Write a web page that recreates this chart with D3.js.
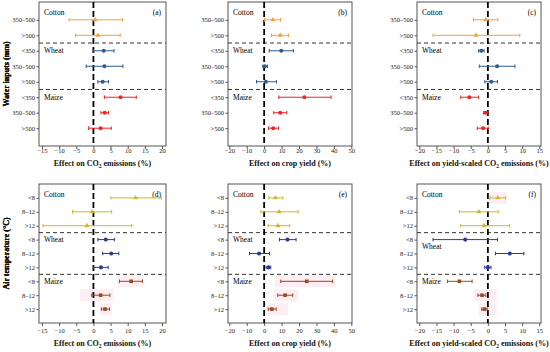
<!DOCTYPE html>
<html>
<head>
<meta charset="utf-8">
<script src="https://cdn.jsdelivr.net/npm/d3@7"></script>
<style>
  body { margin: 0; background: #fff; }
  svg { display: block; font-family: "Liberation Serif", "Times New Roman", serif; }
</style>
</head>
<body>
<div id="chart"></div>
<script>
// row labels and crop groups
const waterLabels = ["350–500", ">500", "<350", "350–500", ">500", "<350", "350–500", ">500"];
const waterCrops  = ["Cotton", "Cotton", "Wheat", "Wheat", "Wheat", "Maize", "Maize", "Maize"];
const tempLabels  = ["<8", "8–12", ">12", "<8", "8–12", ">12", "<8", "8–12", ">12"];
const tempCrops   = ["Cotton", "Cotton", "Cotton", "Wheat", "Wheat", "Wheat", "Maize", "Maize", "Maize"];

// [mean, lower, upper] per row
const co2Water = [[0.5, -7.1, 8.5], [1.3, -5.2, 7.8], [3.0, -0.1, 6.0], [3.2, -2.1, 8.6], [2.7, 1.3, 4.4],
                  [7.9, 3.2, 12.5], [3.3, 2.2, 4.4], [2.1, -1.4, 5.2]];
const yieldWater = [[5.0, 0.2, 9.4], [9.2, 4.2, 14.0], [9.8, 2.9, 16.8], [0.4, -0.8, 1.9], [1.0, -4.4, 7.1],
                    [23.1, 8.4, 38.4], [9.2, 5.5, 13.0], [5.2, 2.5, 8.2]];
const ysWater = [[-0.6, -4.2, 2.9], [-3.5, -16.0, 9.3], [-1.9, -2.7, -1.1], [2.7, -2.5, 7.9], [1.0, -0.9, 2.8],
                 [-5.4, -7.9, -2.7], [-0.7, -1.3, 0.0], [-1.4, -3.1, 0.1]];
const co2Temp = [[12.3, 5.1, 19.8], [-0.4, -6.1, 5.3], [-1.9, -14.7, 11.2], [3.6, 1.3, 6.1], [5.2, 2.7, 7.4],
                 [2.2, 0.1, 4.3], [11.0, 7.6, 14.3], [2.1, -0.5, 4.8], [3.4, 2.3, 4.7]];
const yieldTemp = [[6.5, 2.7, 10.7], [8.6, -1.9, 19.5], [8.0, 2.3, 14.7], [13.4, 8.8, 18.3], [-2.9, -8.4, 3.1],
                   [2.5, 1.1, 3.8], [24.4, 9.5, 39.3], [12.0, 7.8, 16.4], [4.4, 2.3, 6.9]];
const ysTemp = [[2.9, 0.6, 5.2], [-2.6, -8.3, 3.0], [-1.1, -7.9, 6.4], [-6.6, -16.0, 2.8], [6.4, 2.2, 10.5],
                [0.0, -0.9, 0.9], [-8.3, -11.8, -4.6], [-1.7, -2.9, -0.6], [-1.0, -1.8, -0.2]];

// faint pink bands behind some rows of the temperature panels [row, from, to]
const pinkCo2 = [[6, 6.8, 14.6], [7, -3.9, 5.7], [8, 2.0, 5.4]];
const pinkYield = [[6, 6.2, 40.7], [7, 5.2, 19.6], [8, 1.4, 13.8]];
const pinkYs = [[0, 0.3, 5.5], [7, -4.2, 2.6], [8, -2.7, 2.6]];

const ticksA = [-15, -10, -5, 0, 5, 10, 15, 20];
const ticksB = [-20, -10, 0, 10, 20, 30, 40, 50];
const ticksC = [-20, -15, -10, -5, 0, 5, 10, 15];

const W = 550, H = 352;
const svg = d3.select("#chart").append("svg").attr("width", W).attr("height", H);

const topColors = { Cotton: "#f5a03c", Wheat: "#2f5c8c", Maize: "#e8262b" };
const botColors = { Cotton: "#cdb92a", Wheat: "#2c3c8e", Maize: "#9a4a1c" };

const cols = [
  { box: [39, 166], range: [42, 162], domain: [-15, 20], ticks: ticksA },
  { box: [228, 352], range: [229.3, 351.3], domain: [-20, 50], ticks: ticksB },
  { box: [417, 541], range: [419.3, 539.3], domain: [-20, 15], ticks: ticksC }
];

const panels = [
  { col: 0, row: 0, data: co2Water, tag: "(a)", title: ["Effect on CO", "2", " emissions (%)"] },
  { col: 1, row: 0, data: yieldWater, tag: "(b)", title: ["Effect on crop yield (%)"] },
  { col: 2, row: 0, data: ysWater, tag: "(c)", title: ["Effect on yield-scaled CO", "2", " emissions (%)"] },
  { col: 0, row: 1, data: co2Temp, tag: "(d)", title: ["Effect on CO", "2", " emissions (%)"], pink: pinkCo2 },
  { col: 1, row: 1, data: yieldTemp, tag: "(e)", title: ["Effect on crop yield (%)"], pink: pinkYield },
  { col: 2, row: 1, data: ysTemp, tag: "(f)", title: ["Effect on yield-scaled CO", "2", " emissions (%)"], pink: pinkYs }
];

const rows = [
  { box: [2, 146], pad: 1.15, labels: waterLabels, crops: waterCrops, colors: topColors,
    yTitle: "Water inputs (mm)", tickY: 153, titleY: 166 },
  { box: [184, 323], pad: 1, labels: tempLabels, crops: tempCrops, colors: botColors,
    yTitle: "Air temperature (°C)", tickY: 333, titleY: 346 }
];

panels.forEach(function(p) {
  const c = cols[p.col], r = rows[p.row];
  const n = r.labels.length;
  const x = d3.scaleLinear().domain(c.domain).range(c.range);
  const y = d3.scaleLinear().domain([-r.pad, n - 1 + r.pad]).range(r.box);
  const g = svg.append("g");

  // pink bands
  if (p.pink) {
    g.selectAll("rect.pink").data(p.pink).enter().append("rect")
      .attr("x", d => x(d[1]))
      .attr("width", d => x(d[2]) - x(d[1]))
      .attr("y", d => y(d[0]) - 6)
      .attr("height", 12)
      .attr("fill", "#fdeef4");
  }

  // frame
  g.append("rect")
    .attr("x", c.box[0]).attr("y", r.box[0])
    .attr("width", c.box[1] - c.box[0]).attr("height", r.box[1] - r.box[0])
    .attr("fill", "none").attr("stroke", "#555").attr("stroke-width", 1);

  // group separators
  const seps = [];
  for (let i = 1; i < n; i++) if (r.crops[i] !== r.crops[i - 1]) seps.push(i - 0.5);
  g.selectAll("line.sep").data(seps).enter().append("line")
    .attr("x1", c.box[0]).attr("x2", c.box[1])
    .attr("y1", d => y(d)).attr("y2", d => y(d))
    .attr("stroke", "#333").attr("stroke-width", 1).attr("stroke-dasharray", "4,3");

  // zero line
  g.append("line")
    .attr("x1", x(0)).attr("x2", x(0)).attr("y1", r.box[0]).attr("y2", r.box[1])
    .attr("stroke", "#000").attr("stroke-width", 1.8).attr("stroke-dasharray", "6,3");

  // x axis
  const xa = g.append("g").attr("transform", "translate(0," + r.box[1] + ")")
    .call(d3.axisBottom(x).tickValues(c.ticks).tickSize(3).tickSizeOuter(0));
  xa.select(".domain").remove();
  xa.selectAll("line").attr("stroke", "#555");
  xa.selectAll("text").attr("font-size", 6.5).attr("fill", "#222").attr("font-family", "Liberation Serif")
    .attr("y", r.tickY - r.box[1]).attr("dy", 0);

  // y axis
  const ya = g.append("g").attr("transform", "translate(" + c.box[0] + ",0)")
    .call(d3.axisLeft(y).tickValues(d3.range(n)).tickFormat(i => r.labels[i]).tickSize(2.5).tickSizeOuter(0));
  ya.select(".domain").remove();
  ya.selectAll("line").attr("stroke", "#555");
  ya.selectAll("text").attr("font-size", 6.5).attr("fill", "#222").attr("font-family", "Liberation Serif").attr("x", -4);

  // crop labels
  const firstIdx = {};
  r.crops.forEach((cr, i) => { if (!(cr in firstIdx)) firstIdx[cr] = i; });
  Object.keys(firstIdx).forEach(function(cr) {
    let yy = y(firstIdx[cr]) + 2.5;
    if (cr === "Cotton") yy = r.box[0] + 13;
    if (p.row === 1 && p.col === 2 && cr === "Wheat") yy += 7;
    g.append("text").attr("x", c.box[0] + 5).attr("y", yy)
      .attr("font-size", 7.5).attr("fill", "#000").text(cr);
  });

  // panel tag
  g.append("text").attr("x", c.box[1] - 5).attr("y", r.box[0] + 13)
    .attr("text-anchor", "end").attr("font-size", 7.5).attr("fill", "#000").text(p.tag);

  // error bars
  const bars = g.selectAll("g.bar").data(p.data).enter().append("g")
    .attr("transform", (d, i) => "translate(0," + y(i) + ")");
  bars.append("line").attr("x1", d => x(d[1])).attr("x2", d => x(d[2]))
    .attr("stroke", (d, i) => r.colors[r.crops[i]]).attr("stroke-width", 1);
  bars.append("line").attr("x1", d => x(d[1])).attr("x2", d => x(d[1])).attr("y1", -1.8).attr("y2", 1.8)
    .attr("stroke", (d, i) => r.colors[r.crops[i]]).attr("stroke-width", 1);
  bars.append("line").attr("x1", d => x(d[2])).attr("x2", d => x(d[2])).attr("y1", -1.8).attr("y2", 1.8)
    .attr("stroke", (d, i) => r.colors[r.crops[i]]).attr("stroke-width", 1);
  bars.append("path")
    .attr("transform", d => "translate(" + x(d[0]) + ",0)")
    .attr("d", function(d, i) {
      const cr = r.crops[i];
      const type = cr === "Cotton" ? d3.symbolTriangle : (cr === "Wheat" || p.row === 0 ? d3.symbolCircle : d3.symbolSquare);
      return d3.symbol().type(type).size(cr === "Cotton" ? 11 : 13)();
    })
    .attr("fill", (d, i) => r.colors[r.crops[i]]);

  // x title
  const cx = (c.box[0] + c.box[1]) / 2;
  const t = g.append("text").attr("x", cx).attr("y", r.titleY).attr("text-anchor", "middle")
    .attr("font-size", 8).attr("font-weight", "bold").attr("fill", "#111");
  p.title.forEach(function(s, k) {
    if (k === 1) t.append("tspan").attr("font-size", 5.5).attr("dy", 1.8).text(s);
    else if (k === 2) t.append("tspan").attr("dy", -1.8).text(s);
    else t.append("tspan").text(s);
  });

  // y title
  const cy = (r.box[0] + r.box[1]) / 2;
  g.append("text").attr("transform", "translate(9," + cy + ") rotate(-90)")
    .attr("text-anchor", "middle").attr("font-size", 8).attr("font-weight", "bold").attr("fill", "#111")
    .text(r.yTitle);
});
</script>
</body>
</html>
